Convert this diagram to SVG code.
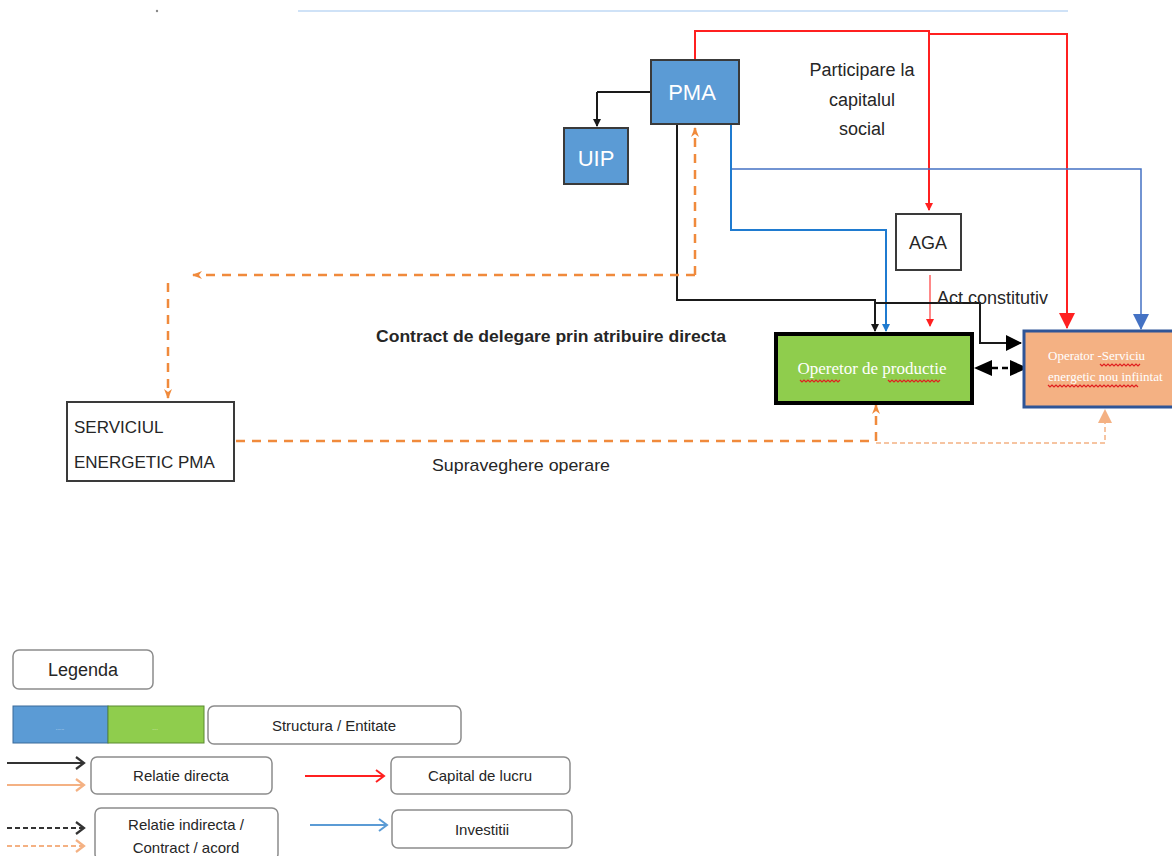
<svg xmlns="http://www.w3.org/2000/svg" width="1172" height="856" viewBox="0 0 1172 856">
<defs>
<style>
text{font-family:"Liberation Sans","Open Sans",sans-serif;fill:#262626}
.blue{fill:#5b9bd5;stroke:#3a3a3a;stroke-width:2}
.wht{fill:#fff;stroke:#3a3a3a;stroke-width:2}
.leg{fill:#fff;stroke:#8c8c8c;stroke-width:1.5}
.blk{stroke:#1a1a1a;stroke-width:2;fill:none}
.red{stroke:#ff2020;stroke-width:2;fill:none}
.bl{stroke:#1f7bd0;stroke-width:2;fill:none}
.bl2{stroke:#4472c4;stroke-width:1.5;fill:none}
.od{stroke:#f08a3c;stroke-width:2.5;fill:none;stroke-dasharray:9 7}
.od2{stroke:#f4b183;stroke-width:1.5;fill:none;stroke-dasharray:5 3}
.sq{stroke:#e02020;stroke-width:1.2;fill:none}
</style>
<marker id="ab" markerWidth="8" markerHeight="8" refX="7" refY="4" orient="auto" markerUnits="userSpaceOnUse"><path d="M0,0 L8,4 L0,8 z" fill="#1a1a1a"/></marker>
<marker id="abB" markerWidth="16" markerHeight="16" refX="15" refY="8" orient="auto" markerUnits="userSpaceOnUse"><path d="M0,0 L16,8 L0,16 z" fill="#000"/></marker>
<marker id="ar" markerWidth="8" markerHeight="8" refX="7" refY="4" orient="auto" markerUnits="userSpaceOnUse"><path d="M0,0 L8,4 L0,8 z" fill="#ff2020"/></marker>
<marker id="arB" markerWidth="16" markerHeight="16" refX="15" refY="8" orient="auto" markerUnits="userSpaceOnUse"><path d="M0,0 L16,8 L0,16 z" fill="#ff2020"/></marker>
<marker id="abl" markerWidth="8" markerHeight="8" refX="7" refY="4" orient="auto" markerUnits="userSpaceOnUse"><path d="M0,0 L8,4 L0,8 z" fill="#1f7bd0"/></marker>
<marker id="ablB" markerWidth="16" markerHeight="16" refX="15" refY="8" orient="auto" markerUnits="userSpaceOnUse"><path d="M0,0 L16,8 L0,16 z" fill="#4472c4"/></marker>
<marker id="ao" markerWidth="10" markerHeight="10" refX="9" refY="5" orient="auto" markerUnits="userSpaceOnUse"><path d="M0,1 L10,5 L0,9 L3,5 z" fill="#f08a3c"/></marker>
<marker id="aoB" markerWidth="14" markerHeight="14" refX="13" refY="7" orient="auto" markerUnits="userSpaceOnUse"><path d="M0,0 L14,7 L0,14 z" fill="#f4b183"/></marker>
<marker id="chk" markerWidth="12" markerHeight="14" refX="10" refY="7" orient="auto" markerUnits="userSpaceOnUse"><path d="M2,1 L10,7 L2,13" fill="none" stroke="#333" stroke-width="2.2"/></marker>
<marker id="cho" markerWidth="12" markerHeight="14" refX="10" refY="7" orient="auto" markerUnits="userSpaceOnUse"><path d="M2,1 L10,7 L2,13" fill="none" stroke="#f4b183" stroke-width="2.2"/></marker>
<marker id="chr" markerWidth="12" markerHeight="14" refX="10" refY="7" orient="auto" markerUnits="userSpaceOnUse"><path d="M2,1 L10,7 L2,13" fill="none" stroke="#ff2020" stroke-width="2"/></marker>
<marker id="chb" markerWidth="12" markerHeight="14" refX="10" refY="7" orient="auto" markerUnits="userSpaceOnUse"><path d="M2,1 L10,7 L2,13" fill="none" stroke="#5b9bd5" stroke-width="2"/></marker>
</defs>
<rect width="1172" height="856" fill="#fff"/>
<line x1="298" y1="11" x2="1068" y2="11" stroke="#cfe2f7" stroke-width="2"/>
<circle cx="157" cy="11" r="1.2" fill="#888"/>

<g id="connectors">
<path class="red" d="M695,60 V31 H929 V210" marker-end="url(#ar)"/>
<path class="red" d="M929,34 H1067 V328" marker-end="url(#arB)"/>
<path d="M930,275 V326" stroke="#ff6060" stroke-width="1.5" fill="none" marker-end="url(#ar)"/>
<path class="bl2" d="M731,169 H1141 V329" marker-end="url(#ablB)"/>
<path class="bl" d="M731,124 V230 H886 V331" marker-end="url(#abl)"/>
<path class="blk" d="M597,92 H651"/>
<path class="blk" d="M597,92 V126" marker-end="url(#ab)"/>
<path class="blk" d="M677,124 V300 H875 V331" marker-end="url(#ab)"/>
<path class="blk" d="M875,303 H980 V343 H1021" marker-end="url(#abB)"/>
<path d="M992,368 H1010" stroke="#000" stroke-width="2.5" stroke-dasharray="6 4" fill="none"/>
<path d="M974,368 L992,360 L992,376 z" fill="#000"/>
<path d="M1028,368 L1010,360 L1010,376 z" fill="#000"/>
<path class="od" d="M695,275 V128" marker-end="url(#ao)"/>
<path class="od" d="M695,275 H193" marker-end="url(#ao)"/>
<path class="od" d="M168,283 V398" marker-end="url(#ao)"/>
<path class="od" d="M236,441 H876 V405" marker-end="url(#ao)"/>
<path class="od2" d="M876,443 H1105 V410" marker-end="url(#aoB)"/>
</g>

<g id="node-pma"><rect class="blue" x="651" y="60" width="88" height="64"/><text x="692" y="100" font-size="22" text-anchor="middle" style="fill:#fff">PMA</text></g>
<g id="node-uip"><rect class="blue" x="564" y="128" width="64" height="56"/><text x="596" y="166" font-size="22" text-anchor="middle" style="fill:#fff">UIP</text></g>
<g id="node-aga"><rect class="wht" x="896" y="214" width="65" height="56"/><text x="928" y="249" font-size="18" text-anchor="middle">AGA</text></g>
<g id="node-serviciul"><rect class="wht" x="67" y="402" width="167" height="79"/><text x="74" y="433" font-size="17">SERVICIUL</text><text x="74" y="468" font-size="17">ENERGETIC PMA</text></g>
<g id="node-operetor"><rect x="776" y="334" width="196" height="69" fill="#8fcd4d" stroke="#000" stroke-width="4"/><text x="872" y="374" font-size="17" text-anchor="middle" style="fill:#fff;font-family:'Liberation Serif',serif">Operetor de productie</text><path class="sq" d="M800,380 l2,2 2,-2 2,2 2,-2 2,2 2,-2 2,2 2,-2 2,2 2,-2 2,2 2,-2 2,2 2,-2 2,2 2,-2 2,2 2,-2 2,2 2,-2 M888,380 l2,2 2,-2 2,2 2,-2 2,2 2,-2 2,2 2,-2 2,2 2,-2 2,2 2,-2 2,2 2,-2 2,2 2,-2 2,2 2,-2 2,2 2,-2 2,2 2,-2 2,2 2,-2 2,2 2,-2"/></g>
<g id="node-operator"><rect x="1024" y="331" width="150" height="76" fill="#f4b183" stroke="#2f5597" stroke-width="3"/><text x="1048" y="360" font-size="13" style="fill:#fff;font-family:'Liberation Serif',serif">Operator -Serviciu</text><text x="1048" y="381" font-size="13" style="fill:#fff;font-family:'Liberation Serif',serif">energetic nou infiintat</text><path class="sq" d="M1100,364 l2,2 2,-2 2,2 2,-2 2,2 2,-2 2,2 2,-2 2,2 2,-2 2,2 2,-2 2,2 2,-2 2,2 2,-2 2,2 2,-2 2,2 2,-2 M1048,385 l2,2 2,-2 2,2 2,-2 2,2 2,-2 2,2 2,-2 2,2 2,-2 2,2 2,-2 2,2 2,-2 2,2 2,-2 2,2 2,-2 2,2 2,-2 2,2 2,-2 2,2 2,-2 2,2 2,-2 2,2 2,-2 2,2 2,-2 2,2 2,-2 2,2 2,-2 2,2 2,-2 2,2 2,-2 2,2 2,-2 2,2 2,-2 2,2 2,-2 2,2"/></g>

<g id="labels">
<text x="862" y="76" font-size="18" text-anchor="middle">Participare la</text>
<text x="862" y="106" font-size="18" text-anchor="middle">capitalul</text>
<text x="862" y="135" font-size="18" text-anchor="middle">social</text>
<text x="937" y="304" font-size="18">Act constitutiv</text>
<text x="376" y="342" font-size="17" font-weight="bold" textLength="350" lengthAdjust="spacingAndGlyphs">Contract de delegare prin atribuire directa</text>
<text x="432" y="471" font-size="17" textLength="178" lengthAdjust="spacingAndGlyphs">Supraveghere operare</text>
</g>

<g id="legend">
<rect class="leg" x="13" y="650" width="140" height="39" rx="6"/><text x="83" y="676" font-size="18" text-anchor="middle">Legenda</text>
<rect x="13" y="706" width="95" height="37" fill="#5b9bd5" stroke="#3a6a9a" stroke-width="1"/>
<rect x="108" y="706" width="96" height="37" fill="#8fcd4d" stroke="#5a8a30" stroke-width="1"/>
<text x="60" y="730" font-size="5" text-anchor="middle" style="fill:#dbe9f7">......</text>
<text x="155" y="730" font-size="5" text-anchor="middle" style="fill:#e6f5d8">....</text>
<rect class="leg" x="208" y="706" width="253" height="38" rx="6"/><text x="334" y="731" font-size="15" text-anchor="middle">Structura / Entitate</text>
<path d="M7,763 H84" stroke="#333" stroke-width="2.2" fill="none" marker-end="url(#chk)"/>
<path d="M7,785 H84" stroke="#f4b183" stroke-width="2.2" fill="none" marker-end="url(#cho)"/>
<rect class="leg" x="91" y="757" width="181" height="37" rx="6"/><text x="181" y="781" font-size="15" text-anchor="middle">Relatie directa</text>
<path d="M305,776 H384" stroke="#ff2020" stroke-width="2" fill="none" marker-end="url(#chr)"/>
<rect class="leg" x="391" y="757" width="179" height="37" rx="6"/><text x="480" y="781" font-size="15" text-anchor="middle">Capital de lucru</text>
<path d="M7,828 H84" stroke="#333" stroke-width="2.2" fill="none" stroke-dasharray="5 3" marker-end="url(#chk)"/>
<path d="M7,846 H84" stroke="#f4b183" stroke-width="2.2" fill="none" stroke-dasharray="5 3" marker-end="url(#cho)"/>
<rect class="leg" x="95" y="808" width="183" height="52" rx="6"/><text x="186" y="830" font-size="15" text-anchor="middle">Relatie indirecta /</text><text x="186" y="853" font-size="15" text-anchor="middle">Contract / acord</text>
<path d="M310,825 H387" stroke="#5b9bd5" stroke-width="2" fill="none" marker-end="url(#chb)"/>
<rect class="leg" x="392" y="810" width="180" height="38" rx="6"/><text x="482" y="835" font-size="15" text-anchor="middle">Investitii</text>
</g>
</svg>
